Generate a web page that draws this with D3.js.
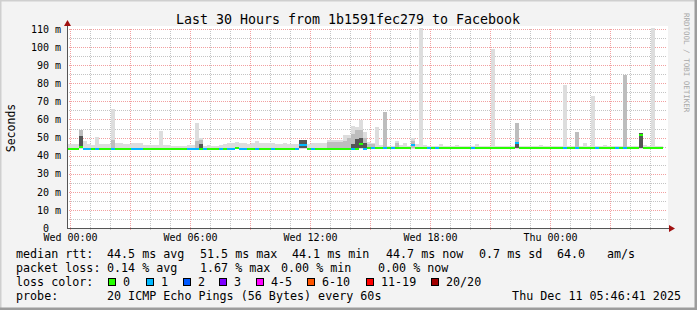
<!DOCTYPE html>
<html lang="en">
<head>
<meta charset="utf-8">
<title>Last 30 Hours from 1b1591fec279 to Facebook</title>
<script src="https://cdn.jsdelivr.net/npm/d3@7"></script>
<style>
	body { margin: 0; background: #f3f3f3; }
	svg text { font-family: "DejaVu Sans Mono", monospace; fill: #000; }
</style>
</head>
<body>
<svg id="chart" width="697" height="310"></svg>
<script>

// one bin = 12 minutes, 150 bins = 30 hours
var chartTitle = "Last 30 Hours from 1b1591fec279 to Facebook"
var yTicks = [0,10,20,30,40,50,60,70,80,90,100,110]

// top of the smoke (max ping) per bin, ms
var smokeTop = [
	46.4,46.4,46.4,54,48,46.5,46,50.3,46.5,46.5,
	46.3,66,46.8,46.8,46.5,46.5,47,47,47,46,
	46,46,46,53.6,46,45.8,45.6,45.6,45.6,45.6,
	46,46,58.2,50,45.5,45.8,45.5,45.5,45.8,46.5,
	46.8,46.8,47.4,46.8,46.8,46.5,47,48.3,46.8,46.8,
	46.8,46.8,46.5,46.3,47.2,46.3,46.3,46.3,48.6,48.6,
	46.5,46.8,46.8,46.8,46.8,48.6,48.6,48.8,48.8,51.4,
	51.4,56.4,56,59.7,53,47.7,47.2,56,46,64.3,
	45.5,45.5,48,46,47,45.5,49.7,46.5,110.5,46,
	45.5,45.5,45.5,46.3,45.6,45.6,45.6,46,45.6,45.6,
	45.6,45.6,46.2,45.6,45.6,45.6,99,45.6,45.6,45.6,
	45.6,45.6,58,45.6,45.6,45.6,45.6,45.6,46,45.6,
	45.6,45.6,45.6,45.6,79,45.6,45.6,53,45.6,47,
	45.6,73,45.6,45.6,46,45.6,45.6,45.6,45.6,84.7,
	45.6,45.6,45.6,52.5,46,45.6,110.5,45.6,45.6,null
]
// median rtt per bin, ms
var medianRtt = [
	43.8,43.8,43.8,44.6,43.8,43.8,43.8,43.8,43.8,43.8,
	43.8,43.8,43.8,43.8,43.8,43.8,43.8,43.8,43.8,43.8,
	43.8,43.8,43.8,43.8,43.8,43.8,43.8,43.8,43.8,43.8,
	43.8,43.8,43.8,43.8,43.8,43.8,43.8,43.8,43.8,43.8,
	43.8,43.8,44.4,43.8,43.8,43.8,43.8,43.8,43.8,43.8,
	43.8,43.8,43.8,43.8,43.8,43.8,43.8,43.8,46,46,
	43.8,43.8,43.8,43.8,43.8,43.8,43.8,43.8,43.8,43.8,
	43.8,43.8,43.8,46.6,43.8,44.5,44.5,44.5,44.5,44.5,
	44.5,44.5,44.5,44.5,44.5,44.5,46,44.5,44.5,44.5,
	44.5,44.5,44.5,44.5,44.5,44.5,44.5,44.5,44.5,44.5,
	44.5,44.5,44.5,44.5,44.5,44.5,44.5,44.5,44.5,44.5,
	44.5,44.5,46.8,44.5,44.5,44.5,44.5,44.5,44.5,44.5,
	44.5,44.5,44.5,44.5,44.5,44.5,44.5,44.5,44.5,44.5,
	44.5,44.5,44.5,44.5,44.5,44.5,44.5,44.5,44.5,44.5,
	44.5,44.5,44.5,51.5,44.5,44.5,44.5,44.5,44.5,null
]
// lost pings per bin (of 20)
var lostPings = [
	0,0,0,0,1,1,0,1,0,0,
	0,1,0,0,0,0,1,1,1,0,
	0,0,0,0,0,0,0,0,0,0,
	1,1,1,0,1,0,0,0,1,0,
	1,1,0,1,1,0,0,1,0,0,
	0,1,0,0,0,0,0,1,1,1,
	0,1,0,0,0,0,0,0,0,0,
	0,1,0,0,1,0,1,0,0,1,
	0,1,0,0,0,0,1,0,0,0,
	1,0,1,0,0,0,0,0,0,0,
	0,1,0,0,0,0,0,0,0,0,
	0,0,1,0,0,0,0,0,0,0,
	0,0,0,0,1,0,0,1,0,0,
	0,0,1,0,0,0,0,1,0,1,
	0,0,0,0,0,0,0,0,0,null
]
// denser smoke: [bin, low, high]
var smokeMid = [
	[3,44,54],[11,44,48.6],[32,44,48],[33,44,48.5],[58,44,48.6],[59,44,48.6],
	[65,44,47.5],[66,44,47.5],[67,44,47.5],[68,44,47.5],[69,44,48],[70,44,50],
	[71,44,52],[72,44,54],[73,44,54],[74,44,50],[75,44,46.5],[76,44,46.5],
	[79,44,64.3],[82,44,47],[86,44,48],[112,44,58],[127,44,53],[139,44,84.7],[143,44,52.5]
]
var smokeDark = [
	[3,44,51],[33,44,46.5],[58,44,48.6],[59,44,48.6],[71,44,46.5],[72,44,49],
	[73,44,50],[74,44,47],[112,44,47.5],[143,44,52.5]
]

var lossLabels = ["0","1","2","3","4-5","6-10","11-19","20/20"]
var lossColors = ["#26ff00","#00b8ff","#0059ff","#7e00ff","#ff00ff","#ff5500","#ff0000","#a10000"]
var rttStats = ["median rtt:","44.5 ms avg","51.5 ms max","44.1 ms min","44.7 ms now","0.7 ms sd","64.0","am/s"]
var lossStats = ["packet loss:","0.14 % avg","1.67 % max","0.00 % min","0.00 % now"]
var probeText = ["probe:","20 ICMP Echo Pings (56 Bytes) every 60s"]
var stampText = "Thu Dec 11 05:46:41 2025"

// layout
var rttX = [16,107,200,292,386,479,557,607]
var lossX = [16,107,200,281,378]
var boxX = [108,146,183,219,256,307,366,431]
var L = 67, R = 667, T = 26, B = 228

var svg = d3.select("#chart")

var start = new Date(2025, 11, 9, 23, 51)
var end = d3.timeHour.offset(start, 30)
var x = d3.scaleTime().domain([start, end]).range([L, R])
var y = d3.scaleLinear().domain([0, 111.7]).range([B, T])

function binX(i) { return x(d3.timeMinute.offset(start, 12 * i)) }
function lossIdx(n) {
	if (n <= 3) return n
	if (n <= 5) return 4
	if (n <= 10) return 5
	if (n <= 19) return 6
	return 7
}

// frame
svg.append("rect").attr("width", 697).attr("height", 310).attr("fill", "#f3f3f3")
svg.append("path").attr("d", "M0,309V0H697").attr("fill", "none").attr("stroke", "#cfcfcf").attr("stroke-width", 3)
svg.append("path").attr("d", "M0,309H696V0").attr("fill", "none").attr("stroke", "#9c9c9c").attr("stroke-width", 3)

svg.append("rect").attr("x", L).attr("y", T).attr("width", R - L + 1).attr("height", B - T).attr("fill", "#fff")

// grid
var grid = svg.append("g").attr("shape-rendering", "crispEdges").attr("stroke-dasharray", "1,1")
x.ticks(d3.timeHour.every(1)).forEach(function(t) {
	var major = t.getHours() % 3 == 0
	grid.append("line")
		.attr("x1", Math.round(x(t)) + 0.5).attr("x2", Math.round(x(t)) + 0.5)
		.attr("y1", y(110)).attr("y2", B + 3)
		.attr("stroke", major ? "#f2a0a0" : "#c4c4c4")
})
d3.range(5, 111, 5).forEach(function(v) {
	var major = v % 10 == 0
	grid.append("line")
		.attr("x1", L).attr("x2", R)
		.attr("y1", Math.round(y(v)) + 0.5).attr("y2", Math.round(y(v)) + 0.5)
		.attr("stroke", major ? "#f2a0a0" : "#c4c4c4")
})

// smoke and median
var plot = svg.append("g").attr("shape-rendering", "crispEdges")
smokeTop.forEach(function(v, i) {
	if (v == null) return
	plot.append("rect").attr("x", binX(i)).attr("width", 4)
		.attr("y", Math.max(T, y(v))).attr("height", y(43.8) - Math.max(T, y(v)))
		.attr("fill", "#dddddd")
})
smokeMid.forEach(function(d) {
	plot.append("rect").attr("x", binX(d[0])).attr("width", 4)
		.attr("y", y(d[2])).attr("height", y(d[1]) - y(d[2])).attr("fill", "#bdbdbd")
})
smokeDark.forEach(function(d) {
	plot.append("rect").attr("x", binX(d[0])).attr("width", 4)
		.attr("y", y(d[2])).attr("height", y(d[1]) - y(d[2])).attr("fill", "#555555")
})
medianRtt.forEach(function(v, i) {
	if (v == null) return
	plot.append("rect").attr("x", binX(i)).attr("width", 4)
		.attr("y", Math.round(y(v)) - 1).attr("height", 2)
		.attr("fill", lossColors[lossIdx(lostPings[i])])
})

// axes
var yAxis = svg.append("g").attr("transform", "translate(" + L + ",0)")
	.call(d3.axisLeft(y).tickValues(yTicks).tickSize(0).tickPadding(6)
		.tickFormat(function(d) { return d == 0 ? "0" : d + " m" }))
yAxis.select(".domain").remove()
yAxis.selectAll("text").attr("font-size", "10px").attr("font-family", null)
	.attr("dx", function(d) { return d == 0 ? -12 : 0 })

var xAxis = svg.append("g").attr("transform", "translate(0," + B + ")")
	.call(d3.axisBottom(x).ticks(d3.timeHour.every(6)).tickSize(0).tickPadding(6)
		.tickFormat(d3.timeFormat("%a %H:%M")))
xAxis.select(".domain").remove()
xAxis.selectAll("text").attr("font-size", "10px").attr("font-family", null)

svg.append("line").attr("x1", L + 0.5).attr("x2", L + 0.5).attr("y1", 24).attr("y2", B + 1)
	.attr("stroke", "#555").attr("shape-rendering", "crispEdges")
svg.append("line").attr("x1", L).attr("x2", 670).attr("y1", B + 0.5).attr("y2", B + 0.5)
	.attr("stroke", "#555").attr("shape-rendering", "crispEdges")
svg.append("path").attr("d", "M64,26L67.5,20L71,26Z").attr("fill", "#a01010")
svg.append("path").attr("d", "M669,225L675,228.5L669,232Z").attr("fill", "#a01010")

// titles
svg.append("text").attr("x", 348).attr("y", 24).attr("text-anchor", "middle")
	.attr("font-size", "13.3px").text(chartTitle)
svg.append("text").attr("transform", "translate(15,128) rotate(-90)").attr("text-anchor", "middle")
	.attr("font-size", "11.5px").text("Seconds")
svg.append("text").attr("transform", "translate(684,13) rotate(90)")
	.attr("font-size", "7.5px").style("fill", "#a8a8a8").text("RRDTOOL / TOBI OETIKER")

// legend
var leg = svg.append("g").attr("font-size", "11.7px")
rttStats.forEach(function(s, i) { leg.append("text").attr("x", rttX[i]).attr("y", 258).text(s) })
lossStats.forEach(function(s, i) { leg.append("text").attr("x", lossX[i]).attr("y", 272).text(s) })
leg.append("text").attr("x", 16).attr("y", 286).text("loss color:")
lossLabels.forEach(function(s, i) {
	leg.append("rect").attr("x", boxX[i] + 0.5).attr("y", 278.5).attr("width", 7).attr("height", 7)
		.attr("fill", lossColors[i]).attr("stroke", "#000").attr("shape-rendering", "crispEdges")
	leg.append("text").attr("x", boxX[i] + 15).attr("y", 286).text(s)
})
leg.append("text").attr("x", 16).attr("y", 300).text(probeText[0])
leg.append("text").attr("x", 107).attr("y", 300).text(probeText[1])
leg.append("text").attr("x", 681).attr("y", 300).attr("text-anchor", "end").text(stampText)

</script>
</body>
</html>
